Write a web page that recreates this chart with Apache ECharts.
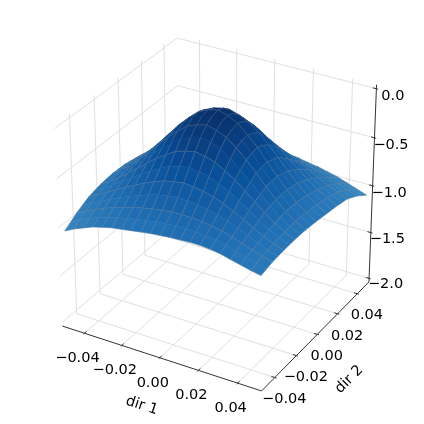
<!DOCTYPE html>
<html>
<head>
<meta charset="utf-8">
<style>
  html, body { margin: 0; padding: 0; background: #fff; }
  #chart { width: 424px; height: 424px; }
</style>
<script src="https://cdn.jsdelivr.net/npm/echarts@6/dist/echarts.min.js"></script>
</head>
<body>
<div id="chart"></div>
<script>
var dir1 = [-0.05, -0.045, -0.04, -0.035, -0.03, -0.025, -0.02, -0.015, -0.01, -0.005, 0, 0.005, 0.01, 0.015, 0.02, 0.025, 0.03, 0.035, 0.04, 0.045, 0.05]
var dir2 = [-0.05, -0.045, -0.04, -0.035, -0.03, -0.025, -0.02, -0.015, -0.01, -0.005, 0, 0.005, 0.01, 0.015, 0.02, 0.025, 0.03, 0.035, 0.04, 0.045, 0.05]

// one row per dir2 value
var loss = [
  [-1.04, -0.99, -0.95, -0.91, -0.885, -0.86, -0.845, -0.83, -0.815, -0.8, -0.79, -0.78, -0.775, -0.77, -0.77, -0.78, -0.795, -0.82, -0.845, -0.87, -0.89],
  [-0.998, -0.947, -0.905, -0.865, -0.835, -0.807, -0.785, -0.766, -0.748, -0.733, -0.722, -0.716, -0.715, -0.717, -0.723, -0.74, -0.762, -0.792, -0.823, -0.85, -0.875],
  [-0.955, -0.905, -0.861, -0.82, -0.784, -0.753, -0.725, -0.702, -0.681, -0.667, -0.655, -0.653, -0.656, -0.665, -0.677, -0.7, -0.729, -0.763, -0.8, -0.83, -0.86],
  [-0.922, -0.87, -0.823, -0.774, -0.73, -0.689, -0.65, -0.618, -0.59, -0.572, -0.56, -0.563, -0.572, -0.591, -0.615, -0.651, -0.693, -0.737, -0.783, -0.819, -0.855],
  [-0.89, -0.835, -0.785, -0.728, -0.676, -0.625, -0.576, -0.535, -0.498, -0.478, -0.464, -0.473, -0.488, -0.518, -0.554, -0.603, -0.657, -0.712, -0.767, -0.808, -0.85],
  [-0.873, -0.815, -0.758, -0.691, -0.627, -0.562, -0.499, -0.447, -0.397, -0.373, -0.355, -0.37, -0.391, -0.435, -0.485, -0.55, -0.618, -0.685, -0.752, -0.8, -0.847],
  [-0.857, -0.795, -0.732, -0.655, -0.579, -0.5, -0.422, -0.36, -0.297, -0.268, -0.246, -0.267, -0.295, -0.353, -0.416, -0.498, -0.58, -0.658, -0.737, -0.793, -0.845],
  [-0.85, -0.782, -0.716, -0.632, -0.545, -0.452, -0.363, -0.281, -0.208, -0.173, -0.15, -0.173, -0.21, -0.28, -0.363, -0.456, -0.552, -0.641, -0.728, -0.791, -0.847],
  [-0.844, -0.77, -0.701, -0.61, -0.512, -0.405, -0.304, -0.215, -0.138, -0.098, -0.074, -0.1, -0.144, -0.22, -0.311, -0.415, -0.524, -0.625, -0.72, -0.79, -0.85],
  [-0.846, -0.772, -0.7, -0.605, -0.503, -0.392, -0.281, -0.185, -0.099, -0.054, -0.029, -0.057, -0.108, -0.195, -0.292, -0.407, -0.52, -0.625, -0.723, -0.795, -0.857],
  [-0.848, -0.775, -0.699, -0.6, -0.494, -0.38, -0.267, -0.17, -0.085, -0.04, -0.017, -0.045, -0.096, -0.185, -0.282, -0.4, -0.517, -0.625, -0.727, -0.8, -0.865],
  [-0.86, -0.787, -0.714, -0.617, -0.516, -0.405, -0.293, -0.198, -0.111, -0.067, -0.043, -0.072, -0.124, -0.213, -0.31, -0.425, -0.538, -0.642, -0.74, -0.81, -0.875],
  [-0.872, -0.8, -0.729, -0.635, -0.538, -0.43, -0.328, -0.24, -0.161, -0.125, -0.1, -0.13, -0.176, -0.255, -0.347, -0.45, -0.56, -0.66, -0.754, -0.82, -0.885],
  [-0.886, -0.82, -0.753, -0.667, -0.58, -0.485, -0.393, -0.311, -0.238, -0.208, -0.184, -0.213, -0.254, -0.328, -0.412, -0.505, -0.6, -0.688, -0.774, -0.835, -0.895],
  [-0.901, -0.84, -0.777, -0.7, -0.621, -0.54, -0.459, -0.395, -0.332, -0.31, -0.286, -0.315, -0.348, -0.413, -0.478, -0.56, -0.64, -0.717, -0.794, -0.85, -0.905],
  [-0.921, -0.865, -0.807, -0.74, -0.673, -0.605, -0.538, -0.485, -0.436, -0.417, -0.4, -0.422, -0.452, -0.504, -0.558, -0.625, -0.69, -0.756, -0.82, -0.87, -0.92],
  [-0.941, -0.89, -0.838, -0.78, -0.725, -0.67, -0.618, -0.575, -0.54, -0.525, -0.514, -0.53, -0.557, -0.595, -0.638, -0.69, -0.74, -0.795, -0.846, -0.89, -0.934],
  [-0.961, -0.915, -0.868, -0.82, -0.773, -0.73, -0.69, -0.657, -0.631, -0.62, -0.614, -0.63, -0.653, -0.683, -0.717, -0.757, -0.797, -0.842, -0.886, -0.928, -0.967],
  [-0.982, -0.94, -0.898, -0.86, -0.822, -0.79, -0.761, -0.74, -0.723, -0.715, -0.714, -0.73, -0.749, -0.772, -0.796, -0.825, -0.854, -0.89, -0.927, -0.965, -1.0],
  [-1.0, -0.962, -0.924, -0.89, -0.858, -0.832, -0.81, -0.795, -0.784, -0.78, -0.782, -0.797, -0.817, -0.836, -0.858, -0.88, -0.907, -0.937, -0.973, -1.01, -1.045],
  [-1.02, -0.985, -0.95, -0.92, -0.895, -0.875, -0.86, -0.85, -0.845, -0.845, -0.85, -0.865, -0.885, -0.9, -0.92, -0.935, -0.96, -0.985, -1.02, -1.055, -1.09]
]

var xTicks = [-0.04, -0.02, 0, 0.02, 0.04]
var yTicks = [-0.04, -0.02, 0, 0.02, 0.04]
var zTicks = [0, -0.5, -1, -1.5, -2]
var xTickLabels = ['−0.04', '−0.02', '0.00', '0.02', '0.04']
var yTickLabels = ['−0.04', '−0.02', '0.00', '0.02', '0.04']
var zTickLabels = ['0.0', '−0.5', '−1.0', '−1.5', '−2.0']

// axis box limits, a bit wider than the data like mplot3d does
var xLim = [-0.052, 0.052]
var yLim = [-0.052, 0.052]
var zLim = [-2.04, 0.04]

// blues colormap stops
var blues = ['#4292c6', '#2171b5', '#08519c', '#08306b']

var GRID_COLOR = '#e0e0e0'
var AXIS_COLOR = '#333'
var WIRE_COLOR = 'rgba(120,130,145,0.65)'
var FONT = '14.5px "DejaVu Sans"'

// view: elevation 30, azimuth -60, camera distance 10
var SCALE = 230
var CX = 218
var CY = 206.5

function project(x, y, z) {
  var px = (x - xLim[0]) / (xLim[1] - xLim[0]) - 0.5
  var py = (y - yLim[0]) / (yLim[1] - yLim[0]) - 0.5
  var pz = (z - zLim[0]) / (zLim[1] - zLim[0]) - 0.5
  var xv = 0.866025 * px + 0.5 * py
  var yv = -0.25 * px + 0.433013 * py + 0.866025 * pz
  var zv = 0.433013 * px - 0.75 * py + 0.5 * pz
  var f = 10 / (10 - zv)
  return [xv * f, yv * f, zv]
}

function lerpColor(z) {
  var t = 0.66 + 0.34 * (z + 1.05) / 1.03
  t = Math.max(0.625, Math.min(1, t))
  return echarts.color.lerp((t - 0.625) / 0.375, blues)
}

// surface cells, painted far to near
var cells = []
for (var j = 0; j < dir2.length - 1; j++) {
  for (var i = 0; i < dir1.length - 1; i++) {
    var corners = [
      [dir1[i], dir2[j], loss[j][i]],
      [dir1[i + 1], dir2[j], loss[j][i + 1]],
      [dir1[i + 1], dir2[j + 1], loss[j + 1][i + 1]],
      [dir1[i], dir2[j + 1], loss[j + 1][i]]
    ]
    var depth = 0
    var avg = 0
    corners.forEach(function(c) {
      depth += project(c[0], c[1], c[2])[2] / 4
      avg += c[2] / 4
    })
    cells.push({ corners: corners, depth: depth, avg: avg, row: j })
  }
}
cells.sort(function(a, b) { return a.depth - b.depth })

// grid lines on the three back walls
var gridLines = []
xTicks.forEach(function(t) {
  gridLines.push([[t, yLim[0], zLim[0]], [t, yLim[1], zLim[0]], [t, yLim[1], zLim[1]]])
})
yTicks.forEach(function(t) {
  gridLines.push([[xLim[0], t, zLim[1]], [xLim[0], t, zLim[0]], [xLim[1], t, zLim[0]]])
})
zTicks.forEach(function(t) {
  gridLines.push([[xLim[0], yLim[0], t], [xLim[0], yLim[1], t], [xLim[1], yLim[1], t]])
})

// axis lines and tick marks
var xSpan = xLim[1] - xLim[0]
var ySpan = yLim[1] - yLim[0]
var axisLines = [
  [[xLim[0], yLim[0], zLim[0]], [xLim[1], yLim[0], zLim[0]]],
  [[xLim[1], yLim[0], zLim[0]], [xLim[1], yLim[1], zLim[0]]],
  [[xLim[1], yLim[1], zLim[0]], [xLim[1], yLim[1], zLim[1]]]
]
xTicks.forEach(function(t) {
  axisLines.push([[t, yLim[0] - ySpan * 0.0083, zLim[0]], [t, yLim[0] + ySpan * 0.0167, zLim[0]]])
})
yTicks.forEach(function(t) {
  axisLines.push([[xLim[1] + xSpan * 0.0083, t, zLim[0]], [xLim[1] - xSpan * 0.0167, t, zLim[0]]])
})
zTicks.forEach(function(t) {
  axisLines.push([[xLim[1] + xSpan * 0.0083, yLim[1], t], [xLim[1] - xSpan * 0.0167, yLim[1], t]])
})

var labels = []
xTicks.forEach(function(t, k) {
  labels.push({ at: [t, yLim[0], zLim[0]], text: xTickLabels[k], dx: -7, dy: 25 })
})
yTicks.forEach(function(t, k) {
  labels.push({ at: [xLim[1], t, zLim[0]], text: yTickLabels[k], dx: 9.5, dy: 22 })
})
zTicks.forEach(function(t, k) {
  labels.push({ at: [xLim[1], yLim[1], t], text: zTickLabels[k], dx: 16.5, dy: 8 - k * 0.5 })
})
labels.push({ at: [0, yLim[0], zLim[0]], text: 'dir 1', dx: -18, dy: 48, rotation: -18 })
labels.push({ at: [xLim[1], 0, zLim[0]], text: 'dir 2', dx: 32, dy: 45, rotation: 45 })

function toPixel(api, p) {
  var s = project(p[0], p[1], p[2])
  return api.coord([s[0], s[1]])
}

function lineSeries(list, color, width, z) {
  return {
    type: 'custom',
    silent: true,
    z: z,
    clip: false,
    animation: false,
    data: list.map(function(l, idx) { return [idx] }),
    renderItem: function(params, api) {
      return {
        type: 'polyline',
        shape: { points: list[params.dataIndex].map(function(p) { return toPixel(api, p) }) },
        style: { stroke: color, lineWidth: width, fill: null }
      }
    }
  }
}

var chart = echarts.init(document.getElementById('chart'), null, { renderer: 'canvas' })
chart.setOption({
  animation: false,
  backgroundColor: '#fff',
  grid: { left: 0, right: 0, top: 0, bottom: 0 },
  xAxis: { type: 'value', show: false, min: -CX / SCALE, max: (424 - CX) / SCALE },
  yAxis: { type: 'value', show: false, min: (CY - 424) / SCALE, max: CY / SCALE },
  series: [
    lineSeries(gridLines, GRID_COLOR, 1, 1),
    lineSeries(axisLines, AXIS_COLOR, 1, 2),
    {
      type: 'custom',
      silent: true,
      z: 3,
      clip: false,
      animation: false,
      data: cells.map(function(c, idx) { return [idx] }),
      renderItem: function(params, api) {
        var c = cells[params.dataIndex]
        var col = lerpColor(c.avg)
        var pts = c.corners.map(function(p) { return toPixel(api, p) })
        var children = [
          { type: 'polygon', shape: { points: pts }, style: { fill: col, stroke: col, lineWidth: 0.5 } },
          { type: 'polyline', shape: { points: [pts[0], pts[3]] }, style: { stroke: WIRE_COLOR, lineWidth: 0.5, fill: null } },
          { type: 'polyline', shape: { points: [pts[1], pts[2]] }, style: { stroke: WIRE_COLOR, lineWidth: 0.5, fill: null } }
        ]
        // only every second dir2 row carries a visible line
        if (c.row % 2 === 0) {
          children.push({ type: 'polyline', shape: { points: [pts[0], pts[1]] }, style: { stroke: WIRE_COLOR, lineWidth: 0.5, fill: null } })
        } else {
          children.push({ type: 'polyline', shape: { points: [pts[3], pts[2]] }, style: { stroke: WIRE_COLOR, lineWidth: 0.5, fill: null } })
        }
        return { type: 'group', children: children }
      }
    },
    {
      type: 'custom',
      silent: true,
      z: 4,
      clip: false,
      animation: false,
      data: labels.map(function(l, idx) { return [idx] }),
      renderItem: function(params, api) {
        var l = labels[params.dataIndex]
        var pos = toPixel(api, l.at)
        return {
          type: 'text',
          x: pos[0] + l.dx,
          y: pos[1] + l.dy,
          rotation: (l.rotation || 0) * Math.PI / 180,
          style: {
            x: 0,
            y: 0,
            text: l.text,
            font: FONT,
            fill: '#000',
            align: 'center',
            verticalAlign: 'middle'
          }
        }
      }
    }
  ]
})
</script>
</body>
</html>
